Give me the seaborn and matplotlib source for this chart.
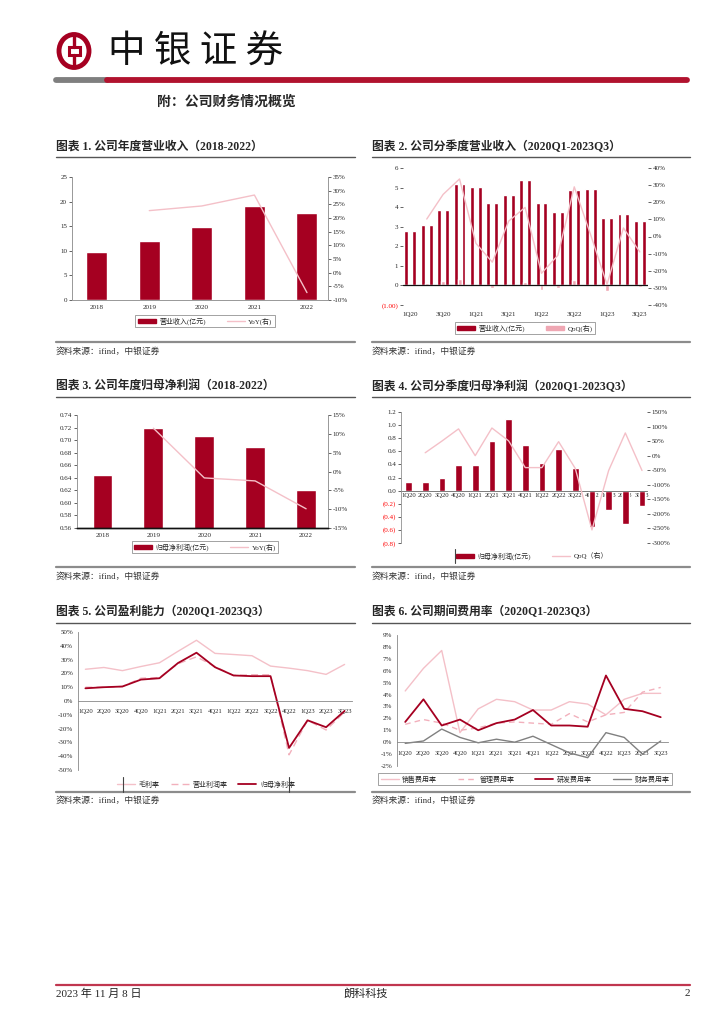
import numpy as np
import pandas as pd
import matplotlib
matplotlib.use('Agg')
import matplotlib.pyplot as plt
from matplotlib.patches import Patch, Ellipse, Rectangle
from matplotlib.lines import Line2D
import seaborn as sns

sns.set_style('white')
plt.rcParams['font.family'] = ['Liberation Serif', 'Noto Sans CJK SC']
plt.rcParams['axes.unicode_minus'] = False

# ---------------- data ----------------
years = ['2018', '2019', '2020', '2021', '2022']
revenue = [9.7, 11.9, 14.8, 19.1, 17.7]
revenue_yoy = [None, 22.7, 24.4, 28.4, -7.3]
net_profit = [0.645, 0.719, 0.707, 0.689, 0.621]
net_profit_yoy = [None, 11.5, -1.7, -2.5, -9.9]

quarters = ['1Q20', '2Q20', '3Q20', '4Q20', '1Q21', '2Q21', '3Q21', '4Q21',
            '1Q22', '2Q22', '3Q22', '4Q22', '1Q23', '2Q23', '3Q23']
q_revenue = [2.80, 3.08, 3.85, 5.20, 5.01, 4.21, 4.61, 5.40,
             4.21, 3.76, 4.86, 4.91, 3.42, 3.63, 3.30]
q_revenue_qoq = [None, 10.2, 24.6, 33.6, -4.0, -15.0, 9.0, 17.0,
                 -21.5, -11.0, 29.0, 1.0, -28.0, 5.0, -9.0]
q_net = [0.137, 0.137, 0.20, 0.39, 0.39, 0.75, 1.09, 0.69,
         0.42, 0.63, 0.35, -0.56, -0.29, -0.51, -0.24]
q_net_qoq = [None, 10, 50, 92, 0, 95, 51, -41, -41, 48, -44, -255, -51, 78, -51]

gross_margin = [23.0, 24.3, 22.0, 25.0, 27.7, 36.0, 44.0, 34.5,
                33.7, 32.8, 25.3, 23.8, 22.0, 19.3, 26.5]
op_margin = [10.0, 10.0, 10.5, 16.5, 17.0, 27.0, 32.0, 25.0,
             18.5, 19.0, 19.0, -39.0, -14.0, -21.0, -8.0]
net_margin = [9.2, 10.0, 10.5, 15.5, 16.5, 27.5, 35.0, 24.5,
              18.5, 18.0, 18.0, -34.0, -14.0, -19.0, -7.2]

sell_rate = [4.3, 6.2, 7.7, 0.8, 2.8, 3.6, 3.4, 2.7, 2.7, 3.4, 3.2, 2.3, 3.6, 4.1, 4.1]
admin_rate = [1.5, 1.9, 1.6, 1.0, 1.2, 1.6, 1.7, 1.6, 1.5, 2.4, 1.7, 2.3, 2.5, 4.2, 4.6]
rd_rate = [1.7, 3.6, 1.4, 1.9, 1.0, 1.6, 1.9, 2.7, 1.4, 1.4, 1.3, 5.6, 2.8, 2.6, 2.1]
fin_rate = [-0.1, 0.1, 1.1, 0.4, -0.05, 0.25, 0.0, 0.5, -0.2, -0.9, -1.3, 0.8, 0.4, -1.0, 0.1]

RED = '#A50021'
PINK = '#F4C0C8'
PINK2 = '#F2B0BC'
GRAY = '#808080'

W, H = 724, 1024
fig = plt.figure(figsize=(W / 100, H / 100), dpi=100)


def add_axes(l, t, r, b):
    return fig.add_axes([l / W, 1 - b / H, (r - l) / W, (b - t) / H])


def ftext(x, y, s, **kw):
    fig.text(x / W, 1 - y / H, s, **kw)


def hline(x0, x1, y, color, lw):
    fig.add_artist(Line2D([x0 / W, x1 / W], [1 - y / H, 1 - y / H],
                          transform=fig.transFigure, color=color, lw=lw))


def vline(x, y0, y1, color='#444444', lw=0.8):
    fig.add_artist(Line2D([x / W, x / W], [1 - y0 / H, 1 - y1 / H],
                          transform=fig.transFigure, color=color, lw=lw))


def style_ticks(ax):
    ax.tick_params(axis='both', length=2, width=0.5, direction='out', labelsize=5, pad=1.5)


def legend(ax, handles, labels, x, y, ncol, frame=True, colsp=3.0, **kw):
    leg = ax.legend(handles, labels, loc='center', bbox_to_anchor=(x / W, 1 - y / H),
                    bbox_transform=fig.transFigure, ncol=ncol, fontsize=5, frameon=frame,
                    fancybox=False, edgecolor='#777777', borderpad=0.35,
                    handlelength=2.6, columnspacing=colsp, handletextpad=0.5, **kw)
    if frame:
        leg.get_frame().set_linewidth(0.6)
    return leg


# ---------------- header ----------------
fig.add_artist(Ellipse((74 / W, 1 - 51 / H), 30 / W, 33 / H, transform=fig.transFigure,
                       facecolor='none', edgecolor=RED, lw=3.5))
fig.add_artist(Rectangle((68.5 / W, 1 - 55 / H), 11 / W, 8 / H, transform=fig.transFigure,
                         facecolor='none', edgecolor=RED, lw=2.2))
fig.add_artist(Line2D([74 / W, 74 / W], [1 - 36 / H, 1 - 47 / H], transform=fig.transFigure,
                      color=RED, lw=2.4))
fig.add_artist(Line2D([74 / W, 74 / W], [1 - 55 / H, 1 - 66 / H], transform=fig.transFigure,
                      color=RED, lw=2.4))
ftext(108, 52, '中 银 证 券', fontsize=27, va='center', ha='left', color='#111111',
      family=['Noto Sans CJK SC'])
hline(56, 107, 79.5, '#7f7f7f', 4.2)
hline(107, 687, 79.5, '#B1122E', 4.2)
ftext(157, 102, '附：公司财务情况概览', fontsize=10, fontweight='bold', va='center')

# titles / rules / sources
titles = [
    (56, 147, '图表 1. 公司年度营业收入（2018-2022）'),
    (372, 147, '图表 2. 公司分季度营业收入（2020Q1-2023Q3）'),
    (56, 387, '图表 3. 公司年度归母净利润（2018-2022）'),
    (372, 387, '图表 4. 公司分季度归母净利润（2020Q1-2023Q3）'),
    (56, 612, '图表 5. 公司盈利能力（2020Q1-2023Q3）'),
    (372, 612, '图表 6. 公司期间费用率（2020Q1-2023Q3）'),
]
for x, y, s in titles:
    ftext(x, y, s, fontsize=8.5, fontweight='bold', va='center')
for y in (157, 397, 623):
    hline(56, 355, y, '#555555', 1.0)
    hline(372, 690, y, '#555555', 1.0)
for yl, yt in ((342, 352), (567, 577), (792, 801)):
    hline(56, 355, yl, '#8c8c8c', 1.6)
    hline(372, 690, yl, '#8c8c8c', 1.6)
    ftext(56, yt, '资料来源：ifind，中银证券', fontsize=6.3, va='center', color='#333333')
    ftext(372, yt, '资料来源：ifind，中银证券', fontsize=6.3, va='center', color='#333333')

# footer
hline(56, 690, 985, '#C0364F', 1.6)
ftext(56, 994, '2023 年 11 月 8 日', fontsize=8, va='center')
ftext(366, 994, '朗科科技', fontsize=8, va='center', ha='center')
ftext(690, 994, '2', fontsize=8, va='center', ha='right')

yidx = np.arange(len(years))
qidx = np.arange(len(quarters))

# ---------------- chart 1 ----------------
ax = add_axes(72, 177, 328, 300)
sns.barplot(x=yidx, y=revenue, color=RED, width=0.4, saturation=1, native_scale=True,
            orient='x', ax=ax)
ax2 = ax.twinx()
m = [i for i, v in enumerate(revenue_yoy) if v is not None]
sns.lineplot(x=yidx[m], y=[revenue_yoy[i] for i in m], color=PINK, lw=1, ax=ax2)
ax.set_xlim(-0.47, 4.4)
ax.set_ylim(0, 25)
ax.set_yticks(range(0, 26, 5))
ax2.set_ylim(-10, 35)
ax2.set_yticks(range(-10, 36, 5))
ax2.set_yticklabels([f'{v}%' for v in range(-10, 36, 5)])
ax.set_xticks(yidx)
ax.set_xticklabels(years)
for a in (ax, ax2):
    style_ticks(a)
    a.spines['top'].set_visible(False)
    for s in ('left', 'right', 'bottom'):
        a.spines[s].set_color('#999999')
        a.spines[s].set_linewidth(0.6)
legend(ax, [Patch(color=RED), Line2D([], [], color=PINK, lw=1)],
       ['营业收入(亿元)', 'YoY(右)'], 205, 321, 2)

# ---------------- chart 2 ----------------
ax = add_axes(403, 168, 648, 305)
qoq_bar = [None if v is None else v / 100 for v in q_revenue_qoq]
df2 = pd.DataFrame({
    'x': list(qidx) * 3,
    'kind': ['a'] * 15 + ['qoq'] * 15 + ['b'] * 15,
    'v': q_revenue + qoq_bar + q_revenue,
}).dropna()
sns.barplot(data=df2, x='x', y='v', hue='kind', hue_order=['a', 'qoq', 'b'],
            palette=[RED, '#EFA7B3', RED], width=0.72, saturation=1, native_scale=True,
            orient='x', legend=False, errorbar=None, ax=ax)
ax.axhline(0, color='#111111', lw=0.9)
ax2 = ax.twinx()
m = [i for i, v in enumerate(q_revenue_qoq) if v is not None]
sns.lineplot(x=qidx[m], y=[q_revenue_qoq[i] for i in m], color=PINK, lw=1, ax=ax2)
ax.set_xlim(-0.45, 14.5)
ax.set_ylim(-1, 6)
ax.set_yticks(range(-1, 7))
ax.set_yticklabels(['(1.00)'] + [str(v) for v in range(0, 7)])
ax.get_yticklabels()[0].set_color('red')
ax2.set_ylim(-40, 40)
ax2.set_yticks(range(-40, 41, 10))
ax2.set_yticklabels([f'{v}%' for v in range(-40, 41, 10)])
ax.set_xticks(qidx[::2])
ax.set_xticklabels(quarters[::2])
ax.set_xlabel('')
ax.set_ylabel('')
for a in (ax, ax2):
    style_ticks(a)
    for s in a.spines.values():
        s.set_visible(False)
ax.tick_params(axis='x', length=0, pad=5)
legend(ax, [Patch(color=RED), Patch(color='#EFA7B3')], ['营业收入(亿元)', 'QoQ(右)'], 525, 328, 2,
       handleheight=0.7)

# ---------------- chart 3 ----------------
ax = add_axes(77, 415, 328, 528)
sns.barplot(x=yidx, y=net_profit, color=RED, width=0.39, saturation=1, native_scale=True,
            orient='x', ax=ax)
ax2 = ax.twinx()
m = [i for i, v in enumerate(net_profit_yoy) if v is not None]
sns.lineplot(x=yidx[m], y=[net_profit_yoy[i] for i in m], color=PINK, lw=1, ax=ax2)
ax.set_xlim(-0.5, 4.43)
ax.set_ylim(0.56, 0.74)
lt3 = np.round(np.arange(0.56, 0.7401, 0.02), 2)
ax.set_yticks(lt3)
ax.set_yticklabels([f'{v:.2f}' for v in lt3])
ax2.set_ylim(-15, 15)
ax2.set_yticks(range(-15, 16, 5))
ax2.set_yticklabels([f'{v}%' for v in range(-15, 16, 5)])
ax.set_xticks(yidx)
ax.set_xticklabels(years)
for a in (ax, ax2):
    style_ticks(a)
    a.spines['top'].set_visible(False)
    for s in ('left', 'right'):
        a.spines[s].set_color('#999999')
        a.spines[s].set_linewidth(0.6)
    a.spines['bottom'].set_color('#111111')
    a.spines['bottom'].set_linewidth(1.0)
legend(ax, [Patch(color=RED), Line2D([], [], color=PINK, lw=1)],
       ['归母净利润(亿元)', 'YoY(右)'], 205, 547, 2)

# ---------------- chart 4 ----------------
ax = add_axes(401, 412, 647, 543)
sns.barplot(x=qidx, y=q_net, color=RED, width=0.4, saturation=1, native_scale=True,
            orient='x', ax=ax)
ax2 = ax.twinx()
m = [i for i, v in enumerate(q_net_qoq) if v is not None]
sns.lineplot(x=qidx[m], y=[q_net_qoq[i] for i in m], color=PINK, lw=1, ax=ax2)
ax.set_xlim(-0.45, 14.3)
ax.set_ylim(-0.8, 1.2)
lticks = [-0.8, -0.6, -0.4, -0.2, 0.0, 0.2, 0.4, 0.6, 0.8, 1.0, 1.2]
ax.set_yticks(lticks)
ax.set_yticklabels([f'({abs(v):.1f})' if v < 0 else f'{v:.1f}' for v in lticks])
for lab, v in zip(ax.get_yticklabels(), lticks):
    if v < 0:
        lab.set_color('red')
ax2.set_ylim(-300, 150)
ax2.set_yticks(range(-300, 151, 50))
ax2.set_yticklabels([f'{v}%' for v in range(-300, 151, 50)])
ax.set_xticks(qidx)
ax.set_xticklabels(quarters)
ax.spines['bottom'].set_position(('data', 0))
for a in (ax, ax2):
    style_ticks(a)
    a.spines['top'].set_visible(False)
    a.spines['right'].set_visible(False)
    a.spines['left'].set_color('#999999')
    a.spines['left'].set_linewidth(0.5)
ax2.spines['bottom'].set_visible(False)
ax.spines['bottom'].set_color('#666666')
ax.spines['bottom'].set_linewidth(0.6)
ax.tick_params(axis='x', length=0, pad=2, labelsize=4.8)
legend(ax, [Patch(color=RED), Line2D([], [], color=PINK, lw=1)],
       ['归母净利润(亿元)', 'QoQ（右）'], 532, 556, 2, frame=False)
vline(455, 549, 563)

# ---------------- chart 5 ----------------
ax = add_axes(78, 632, 352, 770)
sns.lineplot(x=qidx, y=gross_margin, color=PINK, lw=1, ax=ax)
sns.lineplot(x=qidx, y=op_margin, color=PINK2, lw=1, linestyle=(0, (5, 3)), ax=ax)
sns.lineplot(x=qidx, y=net_margin, color=RED, lw=1.3, ax=ax)
ax.set_xlim(-0.4, 14.4)
ax.set_ylim(-50, 50)
ax.set_yticks(range(-50, 51, 10))
ax.set_yticklabels([f'{v}%' for v in range(-50, 51, 10)])
ax.set_xticks(qidx)
ax.set_xticklabels(quarters)
ax.spines['bottom'].set_position(('data', 0))
style_ticks(ax)
ax.tick_params(axis='x', labelsize=4.8, pad=4)
for s in ('top', 'right'):
    ax.spines[s].set_visible(False)
for s in ('left', 'bottom'):
    ax.spines[s].set_color('#888888')
    ax.spines[s].set_linewidth(0.6)
legend(ax, [Line2D([], [], color=PINK, lw=1),
            Line2D([], [], color=PINK2, lw=1, linestyle=(0, (5, 3))),
            Line2D([], [], color=RED, lw=1.3)],
       ['毛利率', '营业利润率', '归母净利率'], 206, 784, 3, frame=False, colsp=1.6)
vline(123, 777, 792)
vline(289, 777, 792)

# ---------------- chart 6 ----------------
ax = add_axes(397, 635, 668, 766)
sns.lineplot(x=qidx, y=sell_rate, color=PINK, lw=1, ax=ax)
sns.lineplot(x=qidx, y=admin_rate, color=PINK2, lw=1, linestyle=(0, (4, 3)), ax=ax)
sns.lineplot(x=qidx, y=rd_rate, color=RED, lw=1.3, ax=ax)
sns.lineplot(x=qidx, y=fin_rate, color=GRAY, lw=1, ax=ax)
ax.set_xlim(-0.45, 14.4)
ax.set_ylim(-2, 9)
ax.set_yticks(range(-2, 10))
ax.set_yticklabels([f'{v}%' for v in range(-2, 10)])
ax.set_xticks(qidx)
ax.set_xticklabels(quarters)
ax.spines['bottom'].set_position(('data', 0))
style_ticks(ax)
ax.tick_params(axis='x', labelsize=4.8, pad=4)
for s in ('top', 'right'):
    ax.spines[s].set_visible(False)
for s in ('left', 'bottom'):
    ax.spines[s].set_color('#888888')
    ax.spines[s].set_linewidth(0.6)
legend(ax, [Line2D([], [], color=PINK, lw=1),
            Line2D([], [], color=PINK2, lw=1, linestyle=(0, (4, 3))),
            Line2D([], [], color=RED, lw=1.3),
            Line2D([], [], color=GRAY, lw=1)],
       ['销售费用率', '管理费用率', '研发费用率', '财务费用率'], 525, 779, 4)

fig.savefig('out.png', dpi=100)
